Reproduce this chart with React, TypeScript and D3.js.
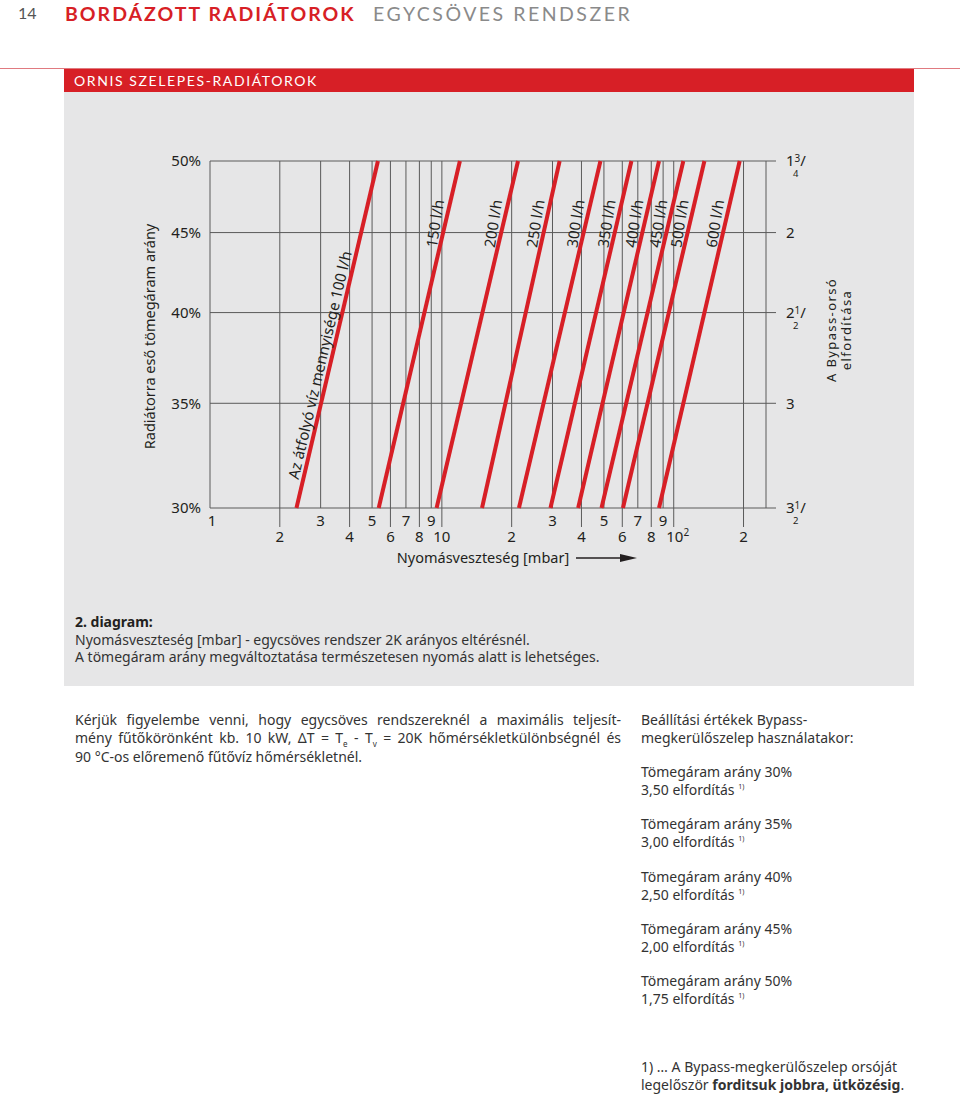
import React, { useLayoutEffect, useRef } from "react";
import * as d3 from "d3";

// ---------- data ----------
const flowRates = [100, 150, 200, 250, 300, 350, 400, 450, 500, 600];
// pressure loss [mbar] read at 30 % and 50 % mass-flow ratio
const pressureAt30 = [2.36, 5.34, 9.49, 14.9, 21.5, 29.4, 38.7, 48.8, 60.4, 86.4];
const pressureAt50 = [5.3, 11.96, 21.3, 32.2, 48.3, 65.7, 86.4, 110, 135.6, 192.5];
const labelRatio = [36.9, 45.5, 45.5, 45.5, 45.5, 45.5, 45.5, 45.5, 45.5, 45.5];
const flowLabels = [
  "Az átfolyó víz mennyisége 100 l/h",
  "150 l/h",
  "200 l/h",
  "250 l/h",
  "300 l/h",
  "350 l/h",
  "400 l/h",
  "450 l/h",
  "500 l/h",
  "600 l/h",
];

const ratioTicks = [30, 35, 40, 45, 50];
const ratioLabels = ["30%", "35%", "40%", "45%", "50%"];
const bypassWhole = ["3", "3", "2", "2", "1"];
const bypassNum = ["1", "", "1", "", "3"];
const bypassDen = ["2", "", "2", "", "4"];

const gridPressures = [1, 2, 3, 4, 5, 6, 7, 8, 9, 10, 20, 30, 40, 50, 60, 70, 80, 90, 100, 200, 250];
const longTicks = [2, 4, 6, 8, 10, 20, 40, 60, 80, 100, 200];
const oddRowTicks = [1, 3, 5, 7, 9, 30, 50, 70, 90];
const oddRowLabels = ["1", "3", "5", "7", "9", "3", "5", "7", "9"];
const evenRowTicks = [2, 4, 6, 8, 10, 20, 40, 60, 80, 100, 200];
const evenRowLabels = ["2", "4", "6", "8", "10", "2", "4", "6", "8", "10", "2"];

const settingRatios = ["30%", "35%", "40%", "45%", "50%"];
const settingTurns = ["3,50", "3,00", "2,50", "2,00", "1,75"];

// ---------- style ----------
const FONT = "'Noto Sans', Lato, sans-serif";
const HEAD_FONT = "Lato, 'Noto Sans', sans-serif";
const RED = "#d71f26";
const INK = "#231f20";
const BODY = "#333";
const GRID = "#5a5a5a";
const PANEL = "#e6e6e7";

function Justified(props: { x: number; y: number; width: number; children: React.ReactNode }) {
  const ref = useRef<SVGTextElement>(null);
  useLayoutEffect(() => {
    const el = ref.current;
    if (!el) return;
    el.setAttribute("word-spacing", "0");
    const len = el.getComputedTextLength();
    const txt = el.textContent || "";
    const spaces = (txt.trim().match(/ /g) || []).length;
    if (spaces > 0) el.setAttribute("word-spacing", String((props.width - len) / spaces));
  });
  return (
    <text ref={ref} x={props.x} y={props.y} fontSize={14} fill={BODY}>
      {props.children}
    </text>
  );
}

export default function App() {
  const x = d3.scaleLog().domain([1, 250]).range([210, 766]);
  const y = d3.scaleLog().domain([30, 50]).range([508, 161]);
  const yTop = y(50);
  const yBot = y(30);

  const lines = flowRates.map((f, i) => {
    const pts: [number, number][] = [
      [pressureAt30[i], 30],
      [pressureAt50[i], 50],
    ];
    const gen = d3
      .line<[number, number]>()
      .x((d) => x(d[0]))
      .y((d) => y(d[1]));
    const x0 = x(pressureAt30[i]);
    const x1 = x(pressureAt50[i]);
    const y0 = y(30);
    const y1 = y(50);
    const lineAng = (Math.atan2(y1 - y0, x1 - x0) * 180) / Math.PI;
    const ang = i === 0 ? lineAng : -81;
    const ly = y(labelRatio[i]);
    const t = (ly - y0) / (y1 - y0);
    const lx = x0 + t * (x1 - x0);
    return { d: gen(pts) as string, ang, lx, ly, label: flowLabels[i] };
  });

  const pAxisY = 558;

  return (
    <svg
      width={960}
      height={1097}
      style={{ position: "absolute", left: 0, top: 0, background: "#fff" }}
      fontFamily={FONT}
    >
      {/* header */}
      <text x={18} y={19} fontSize={16} fill="#555" fontFamily={HEAD_FONT}>14</text>
      <text x={65} y={21} fontSize={19.5} fontWeight={700} fill={RED} letterSpacing={2} fontFamily={HEAD_FONT}>
        BORDÁZOTT RADIÁTOROK
      </text>
      <text x={373} y={21} fontSize={19.5} fontWeight={400} fill="#8a8a8a" letterSpacing={2.5} fontFamily={HEAD_FONT}>
        EGYCSÖVES RENDSZER
      </text>
      <rect x={0} y={68} width={960} height={1} fill="#e07a80" />
      <rect x={64} y={69} width={850} height={23} fill={RED} />
      <text x={74} y={86} fontSize={14} fill="#fff" letterSpacing={1.6} fontFamily={HEAD_FONT}>
        ORNIS SZELEPES-RADIÁTOROK
      </text>
      <rect x={64} y={92} width={850} height={594} fill={PANEL} />

      {/* grid: horizontal */}
      {ratioTicks.map((r) => (
        <line key={"h" + r} x1={x(1)} x2={776} y1={y(r)} y2={y(r)} stroke={GRID} strokeWidth={1} />
      ))}
      {/* grid: vertical */}
      {gridPressures.map((p) => (
        <line
          key={"v" + p}
          x1={x(p)}
          x2={x(p)}
          y1={yTop}
          y2={longTicks.includes(p) ? 527 : yBot}
          stroke={GRID}
          strokeWidth={1}
        />
      ))}

      {/* red flow lines */}
      {lines.map((l, i) => (
        <path key={"l" + i} d={l.d} stroke={RED} strokeWidth={4} fill="none" />
      ))}
      {lines.map((l, i) => (
        <text
          key={"t" + i}
          transform={`translate(${l.lx},${l.ly}) rotate(${l.ang})`}
          dy={-4.5}
          textAnchor="middle"
          fontSize={15}
          fill={INK}
        >
          {l.label}
        </text>
      ))}

      {/* left axis */}
      {ratioTicks.map((r, i) => (
        <text key={"yl" + r} x={201} y={y(r)} dy="0.35em" textAnchor="end" fontSize={15} fill={INK}>
          {ratioLabels[i]}
        </text>
      ))}
      <text
        transform={`translate(155,${(y(30) + y(50)) / 2 + 2}) rotate(-90)`}
        textAnchor="middle"
        fontSize={14.5}
        fill={INK}
      >
        Radiátorra eső tömegáram arány
      </text>

      {/* right axis */}
      {ratioTicks.map((r, i) => (
        <g key={"yr" + r}>
          <text x={786} y={y(r)} dy="0.35em" fontSize={15} fill={INK}>
            {bypassWhole[i]}
            {bypassNum[i] && (
              <>
                <tspan fontSize={10} dy={-4}>{bypassNum[i]}</tspan>
                <tspan fontSize={15} dy={4}>/</tspan>
              </>
            )}
          </text>
          {bypassDen[i] && (
            <text x={793} y={y(r) + 16} fontSize={9.5} fill={INK}>
              {bypassDen[i]}
            </text>
          )}
        </g>
      ))}
      <text
        transform={`translate(836,330) rotate(-90)`}
        textAnchor="middle"
        fontSize={13}
        fill={INK}
        letterSpacing={1.4}
      >
        A Bypass-orsó
      </text>
      <text
        transform={`translate(851,330) rotate(-90)`}
        textAnchor="middle"
        fontSize={13}
        fill={INK}
        letterSpacing={1.4}
      >
        elfordítása
      </text>

      {/* bottom axis */}
      {oddRowTicks.map((p, i) => (
        <text key={"xo" + p} x={x(p) + (p === 1 ? 2 : 0)} y={526} textAnchor="middle" fontSize={15} fill={INK}>
          {oddRowLabels[i]}
        </text>
      ))}
      {evenRowTicks.map((p, i) => (
        <text key={"xe" + p} x={x(p) + (p === 100 ? 4 : 0)} y={542} textAnchor="middle" fontSize={15} fill={INK}>
          {evenRowLabels[i]}
          {p === 100 && (
            <tspan fontSize={10} dy={-6}>2</tspan>
          )}
        </text>
      ))}
      <text x={483} y={pAxisY} dy="0.35em" textAnchor="middle" fontSize={14.5} fill={INK}>
        Nyomásveszteség [mbar]
      </text>
      <line x1={576} x2={624} y1={pAxisY} y2={pAxisY} stroke={INK} strokeWidth={1.6} />
      <path d={`M620,${pAxisY - 4} L637,${pAxisY} L620,${pAxisY + 4} Z`} fill={INK} />

      {/* caption */}
      <text x={75} y={627} fontSize={14} fontWeight={700} fill={INK}>2. diagram:</text>
      <text x={75} y={645} fontSize={14} fill={BODY}>
        Nyomásveszteség [mbar] - egycsöves rendszer 2K arányos eltérésnél.
      </text>
      <text x={75} y={662} fontSize={14} fill={BODY}>
        A tömegáram arány megváltoztatása természetesen nyomás alatt is lehetséges.
      </text>

      {/* left paragraph */}
      <Justified x={75} y={725} width={546}>
        Kérjük figyelembe venni, hogy egycsöves rendszereknél a maximális teljesít-
      </Justified>
      <Justified x={75} y={743} width={546}>
        mény fűtőkörönként kb. 10 kW, ΔT = T<tspan fontSize={8} dy={4}>e</tspan>
        <tspan dy={-4}> - T</tspan>
        <tspan fontSize={8} dy={4}>v</tspan>
        <tspan dy={-4}> = 20K hőmérsékletkülönbségnél és</tspan>
      </Justified>
      <text x={75} y={762} fontSize={14} fill={BODY}>
        90 °C-os előremenő fűtővíz hőmérsékletnél.
      </text>

      {/* right column */}
      <text x={641} y={725} fontSize={14} fill={BODY}>Beállítási értékek Bypass-</text>
      <text x={641} y={743} fontSize={14} fill={BODY}>megkerülőszelep használatakor:</text>
      {settingRatios.map((r, i) => (
        <g key={"s" + i}>
          <text x={641} y={777 + i * 52.3} fontSize={14} fill={BODY}>
            Tömegáram arány {r}
          </text>
          <text x={641} y={795 + i * 52.3} fontSize={14} fill={BODY}>
            {settingTurns[i]} elfordítás <tspan fontSize={7} dy={-6}>1)</tspan>
          </text>
        </g>
      ))}
      <text x={641} y={1072} fontSize={14} fill={BODY}>1) … A Bypass-megkerülőszelep orsóját</text>
      <text x={641} y={1090} fontSize={14} fill={BODY}>
        legelőször <tspan fontWeight={700}>forditsuk jobbra, ütközésig</tspan>.
      </text>
    </svg>
  );
}
